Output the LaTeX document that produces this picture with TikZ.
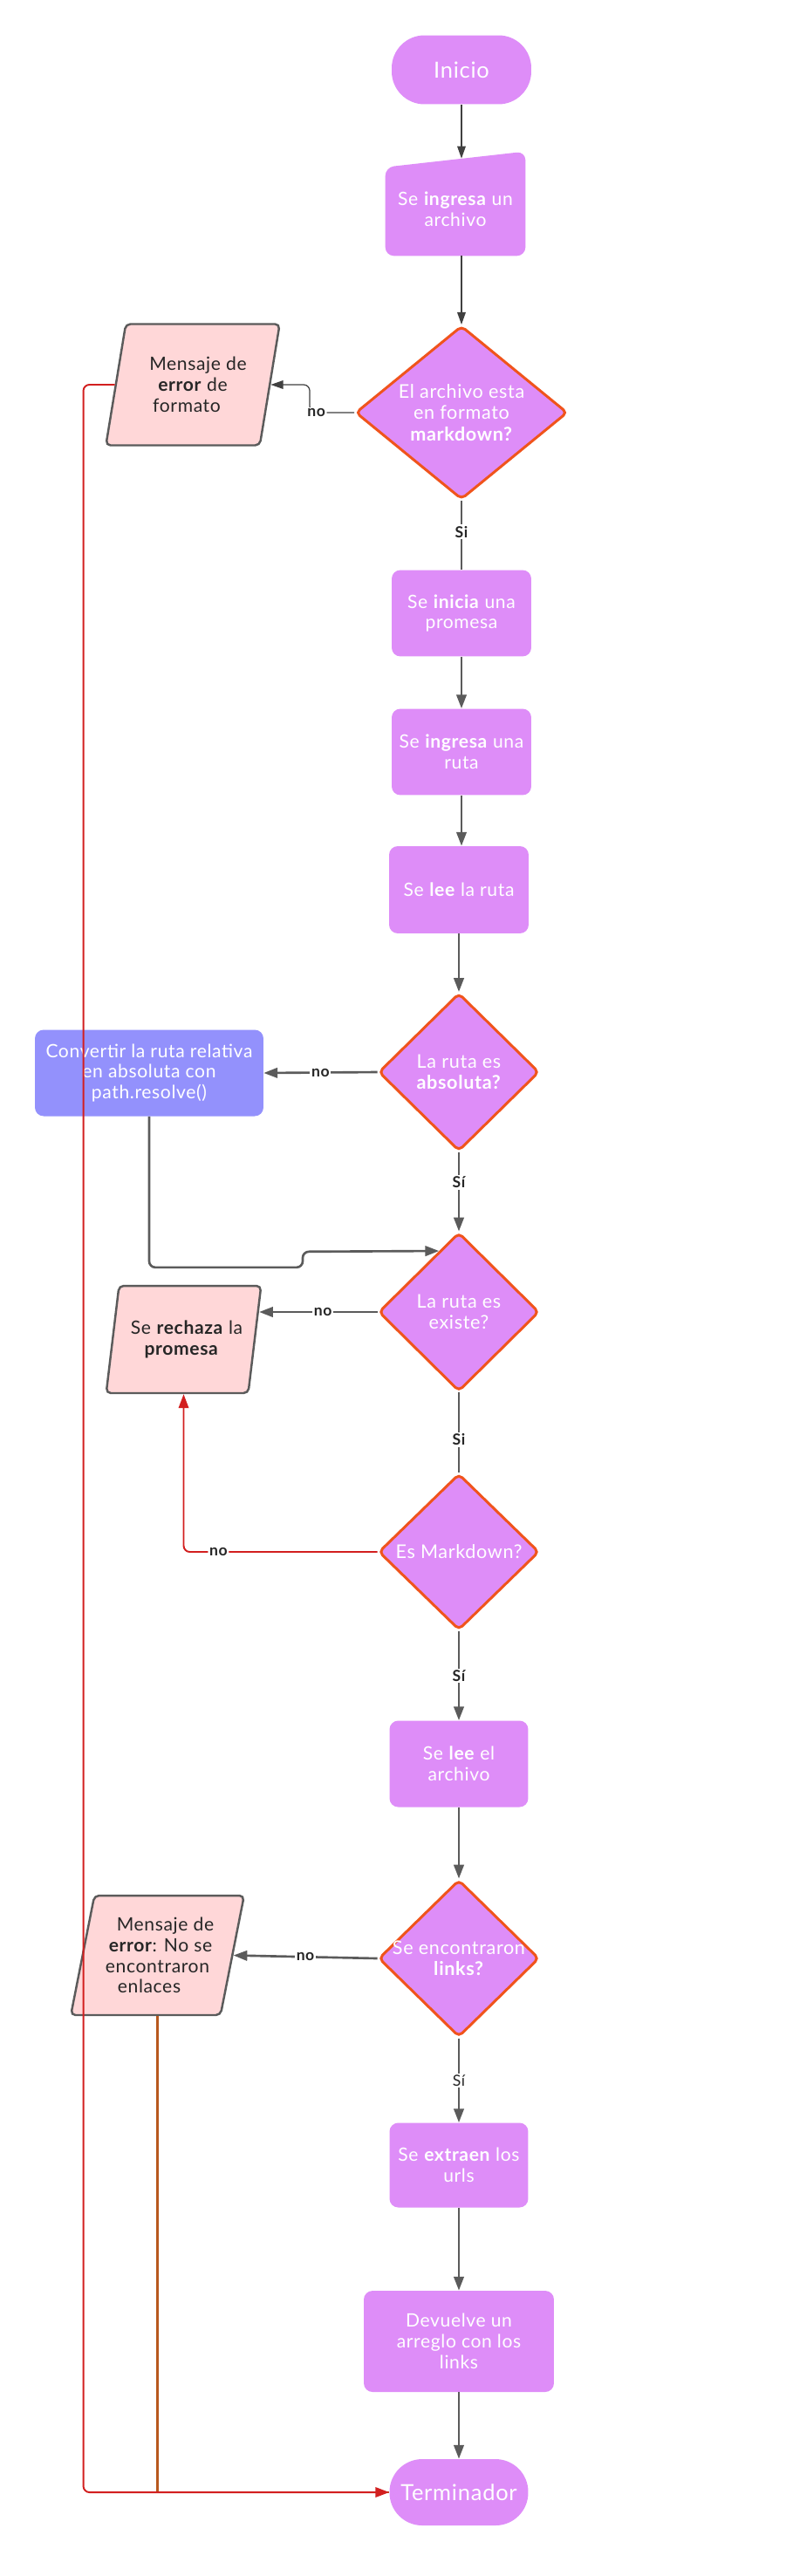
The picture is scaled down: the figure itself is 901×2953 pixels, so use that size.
\documentclass[tikz,border=0pt]{standalone}
\usepackage{fontspec}
\setmainfont{Lato}[LetterSpace=3]
\usepackage{tikz}
\usetikzlibrary{shapes,arrows.meta,positioning,calc,backgrounds}

\definecolor{lila}{HTML}{DE8DF8}
\definecolor{azul}{HTML}{9391FC}
\definecolor{rosa}{HTML}{FFD7D8}
\definecolor{borde}{HTML}{F0541C}
\definecolor{gris}{HTML}{5B5B5B}
\definecolor{rojo}{HTML}{D21F1F}
\definecolor{cafe}{HTML}{B8581E}

\begin{document}
\begin{tikzpicture}[x=0.02cm, y=-0.02cm,
    caja/.style={rectangle, rounded corners=0.2cm, fill=lila, text=white, align=center, inner sep=2pt, font=\fontsize{12}{13.5}\selectfont},
    extremo/.style={caja, rounded corners=0.75cm, font=\fontsize{14.5}{16}\selectfont},
    decision/.style={diamond, fill=lila, draw=borde, line width=1.7pt, rounded corners=3pt, text=white, align=center, inner xsep=-0.6cm, inner ysep=0pt, font=\fontsize{12.3}{13.8}\selectfont},
    salida/.style={trapezium, trapezium left angle=75, trapezium right angle=105, trapezium stretches=true, fill=rosa, draw=gris, line width=1.4pt, rounded corners=3pt, align=center, text=black!85, font=\fontsize{12}{13.5}\selectfont},
    flecha/.style={draw=gris, line width=1.5pt, -{Triangle[length=9pt,width=6.5pt]}},
    flechaf/.style={draw=black!75, line width=0.7pt, -{Triangle[length=8pt,width=5.5pt]}},
    linea/.style={draw=gris, line width=1.5pt},
    rojoflecha/.style={draw=rojo, line width=1.1pt, -{Triangle[length=9pt,width=6.5pt]}},
    etiq/.style={fill=white, inner sep=1pt, text=black!85, font=\fontsize{10}{10}\selectfont\bfseries},
  ]
  % fondo
  \begin{scope}[on background layer]
    \fill[white] (0,0) rectangle (901,2953);
  \end{scope}

  % Inicio y entrada
  \node[extremo, minimum width=3.2cm, minimum height=1.58cm] (inicio) at (529,80) {Inicio};
  \node[caja, fill=none, minimum width=3.2cm, minimum height=2.12cm] (ingreso) at (522,240) {Se \textbf{ingresa} un\\archivo};
  \begin{scope}[on background layer]
    \fill[lila, rounded corners=0.2cm] (ingreso.south west) -- ([yshift=-0.1cm]ingreso.north west)
      -- ([yshift=0.26cm]ingreso.north east) -- (ingreso.south east) -- cycle;
  \end{scope}

  % Formato
  \node[decision, minimum width=4.86cm, minimum height=3.98cm, aspect=1.22] (d1) at (529,473) {El archivo esta\\en formato\\\textbf{markdown?}};
  \node[salida, minimum width=4cm, minimum height=2.78cm] (msg1) at (221,441) {\hspace*{0.24cm}Mensaje de\\\textbf{error} de\\formato\hspace*{0.28cm}};

  % Promesa y ruta
  \node[caja, minimum width=3.2cm, minimum height=1.98cm] (promesa) at (529,703) {Se \textbf{inicia} una\\promesa};
  \node[caja, minimum width=3.2cm, minimum height=1.98cm] (ruta) at (529,862) {Se \textbf{ingresa} una\\ruta};
  \node[caja, minimum width=3.2cm, minimum height=2cm] (leeruta) at (526,1020) {Se \textbf{lee} la ruta};
  \node[decision, minimum width=3.68cm, minimum height=3.62cm] (d2) at (526,1229) {La ruta es\\\textbf{absoluta?}};
  \node[caja, fill=azul, minimum width=5.24cm, minimum height=1.98cm] (conv) at (171,1230) {Convertir la ruta relativa\\en absoluta con\\path.resolve()};
  \node[decision, minimum width=3.68cm, minimum height=3.64cm] (d3) at (526,1504) {La ruta es\\existe?};
  \node[salida, minimum width=3.58cm, minimum height=2.46cm] (rechaza) at (210.5,1535.5) {\hspace*{0.14cm}Se \textbf{rechaza} la\\\textbf{promesa}\hspace*{0.1cm}};
  \node[decision, minimum width=3.68cm, minimum height=3.58cm] (d4) at (526,1779) {Es Markdown?};

  % Archivo y links
  \node[caja, minimum width=3.18cm, minimum height=1.98cm] (leearch) at (526,2022) {Se \textbf{lee} el\\archivo};
  \node[decision, minimum width=3.68cm, minimum height=3.6cm] (d5) at (526,2245) {Se encontraron\\\textbf{links?}};
  \node[salida, minimum width=3.98cm, minimum height=2.74cm] (msg3) at (180.5,2241.5) {\hspace*{0.36cm}Mensaje de\\\hspace*{0.14cm}\textbf{error}: No se\\encontraron\hspace*{0.14cm}\\enlaces\hspace*{0.38cm}};
  \node[caja, minimum width=3.18cm, minimum height=1.94cm] (urls) at (526,2482) {Se \textbf{extraen} los\\urls};
  \node[caja, minimum width=4.36cm, minimum height=2.32cm] (devuelve) at (526,2684) {Devuelve un\\arreglo con los\\links};
  \node[extremo, minimum width=3.18cm, minimum height=1.52cm] (fin) at (526,2857) {Terminador};

  % conectores
  \draw[flechaf] (inicio.south) -- ([yshift=0.1cm]inicio.south |- ingreso.north);
  \draw[flechaf] (inicio.south |- ingreso.south) -- (d1.north);
  \draw[flechaf, rounded corners=4pt] (d1.west) -- ++(-51,0) node[etiq, pos=0.85]{no} |- (msg1.east);
  \draw[linea] (d1.south) -- node[etiq, pos=0.45]{Si} (promesa.north);
  \draw[flecha] (promesa) -- (ruta);
  \draw[flecha] (ruta.south) -- (ruta.south |- leeruta.north);
  \draw[flecha] (leeruta) -- (d2);
  \draw[flecha] (d2.west) -- node[etiq, pos=0.5]{no} (conv.east);
  \draw[flecha] (d2.south) -- node[etiq, pos=0.38]{Sí} (d3.north);
  \draw[flecha, rounded corners=4pt] (conv.south) -- ++(0,173) -- ++(176,0) -- ++(0,-18) -- (d3.108);
  \draw[flecha] (d3.west) -- node[etiq, pos=0.46]{no} (rechaza.21 |- d3.west);
  \draw[linea] (d3.south) -- node[etiq, pos=0.59]{Si} (d4.north);
  \draw[rojoflecha, rounded corners=4pt] (d4.west) -| node[etiq, pos=0.41]{no} (rechaza.south);
  \draw[flecha] (d4.south) -- node[etiq, pos=0.5]{Sí} (leearch.north);
  \draw[flecha] (leearch) -- (d5);
  \draw[flecha] (d5.west) -- node[etiq, pos=0.5]{no} (msg3.east);
  \draw[flecha] (d5.south) -- node[etiq, pos=0.5, font=\fontsize{10}{10}\selectfont]{Sí} (urls.north);
  \draw[flecha] (urls) -- (devuelve);
  \draw[flecha] (devuelve) -- (fin);

  % errores hacia el terminador
  \draw[cafe, line width=1.3pt] (msg3.south) |- (fin.west);
  \draw[rojoflecha, rounded corners=4pt] (msg1.west) -- ++(-36,0) |- (fin.west);
\end{tikzpicture}
\end{document}
